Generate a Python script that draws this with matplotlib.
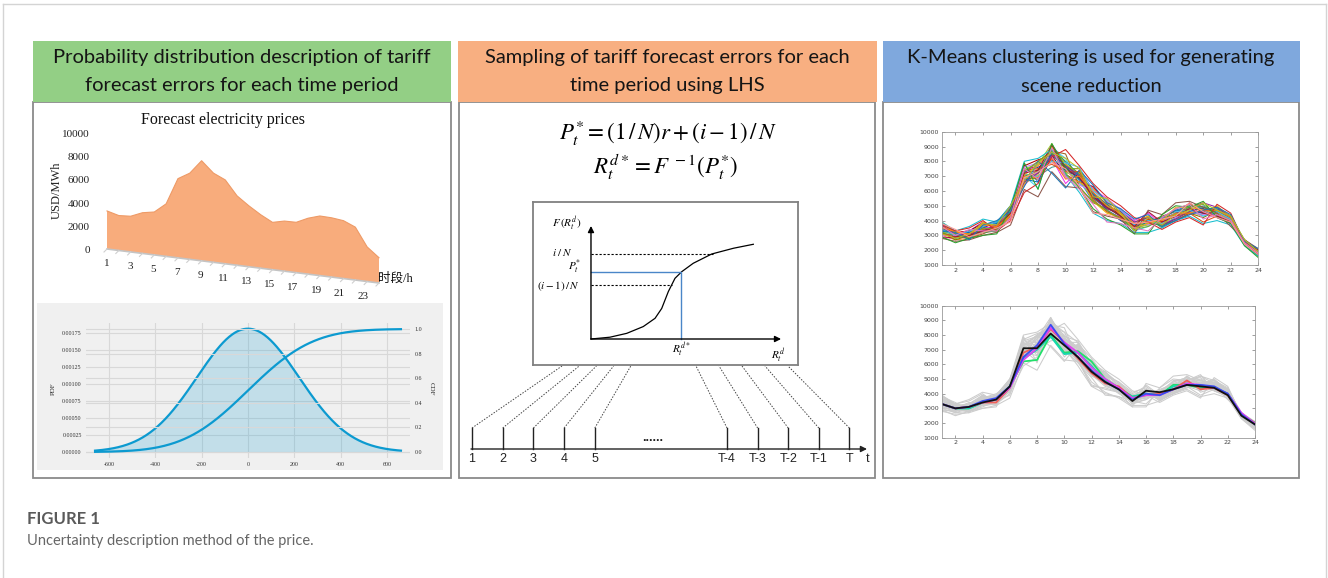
import math
import numpy as np
import matplotlib
matplotlib.use("Agg")
import matplotlib.pyplot as plt
from matplotlib.patches import Rectangle
from matplotlib.transforms import Affine2D

plt.rcParams["mathtext.fontset"] = "stix"

W, H = 1328, 578

# ---------------- data ----------------
hours = list(range(1, 25))
forecast_price = [3280, 3010, 3080, 3510, 3700, 4530, 6830, 7430, 8630, 7690, 7230, 5980,
                  5250, 4610, 4080, 4320, 4340, 4820, 5140, 5110, 4990, 4560, 2980, 2180]
price_ticks = [0, 2000, 4000, 6000, 8000, 10000]
hour_ticks = [1, 3, 5, 7, 9, 11, 13, 15, 17, 19, 21, 23]

# forecast error distribution (USD/MWh)
err_mu = 0.0
err_sigma = 220.0
err_range = (-660, 660)
err_ticks = [-600, -400, -200, 0, 200, 400, 600]
pdf_ticks = [0.0, 0.00025, 0.0005, 0.00075, 0.001, 0.00125, 0.0015, 0.00175]
cdf_ticks = [0.0, 0.2, 0.4, 0.6, 0.8, 1.0]

# LHS sketch: cumulative distribution curve in normalised units
cdf_curve_x = [0.0, 0.10, 0.188, 0.275, 0.337, 0.372, 0.407, 0.442, 0.477, 0.538, 0.635, 0.75, 0.854]
cdf_curve_y = [0.0, 0.016, 0.05, 0.11, 0.183, 0.27, 0.42, 0.537, 0.595, 0.67, 0.752, 0.803, 0.838]
level_low = 0.478    # (i-1)/N
level_high = 0.755   # i/N
sample_p = 0.59      # P_t*

timeline_labels = ["1", "2", "3", "4", "5", "T-4", "T-3", "T-2", "T-1", "T"]

# price scenarios generated by LHS (USD/MWh, hours 1..24)
scenario_prices = [
    [3500, 3100, 2900, 3300, 3600, 4300, 7400, 7700, 8800, 7600, 6900, 5600, 4900, 4300, 3700, 3900, 3800, 4400, 4800, 4700, 4600, 4100, 2500, 1800],
    [3200, 2900, 3000, 3500, 3400, 4600, 6900, 7200, 8300, 7200, 7300, 5900, 5100, 4500, 3500, 4100, 3700, 4200, 4600, 4500, 4400, 3900, 2600, 1900],
    [3800, 3200, 3100, 3700, 3900, 4900, 7800, 6600, 9100, 7900, 6700, 5300, 4700, 4200, 3400, 3800, 4100, 4700, 5000, 4900, 4700, 4200, 2400, 1700],
    [3000, 2700, 2800, 3200, 3300, 4200, 6600, 7500, 8000, 7000, 6500, 6200, 5300, 4600, 3900, 4300, 3600, 4000, 4500, 4400, 4300, 4000, 2700, 2000],
    [3400, 3000, 3300, 3900, 3500, 4400, 7200, 8000, 8600, 7700, 7100, 5500, 4800, 4400, 3600, 4000, 3900, 4500, 4900, 5200, 4900, 4300, 2500, 1800],
    [3600, 3300, 2900, 3300, 3700, 4700, 7000, 6200, 8900, 8200, 6500, 5700, 5000, 4300, 3300, 3600, 4200, 4400, 4700, 4300, 4500, 4100, 2600, 1900],
    [2900, 2800, 3100, 3500, 3600, 4100, 6400, 7300, 8200, 6500, 7400, 6100, 5500, 4700, 4000, 4500, 3800, 4100, 4400, 4600, 4200, 3800, 2400, 1700],
    [3300, 3100, 3000, 3400, 3200, 4500, 7500, 7800, 9200, 7300, 6800, 5400, 4600, 4100, 3500, 3700, 4000, 4800, 5100, 4700, 4800, 4300, 2500, 1800],
    [3700, 2900, 3200, 3600, 3800, 4800, 7100, 7000, 7600, 7800, 7000, 5800, 4900, 4400, 3800, 4200, 3500, 4200, 4600, 5000, 4400, 3900, 2600, 1900],
    [3100, 3000, 2800, 3100, 3500, 4300, 6700, 7400, 8700, 8500, 6300, 5200, 4800, 4500, 3700, 3900, 4300, 4600, 4800, 4800, 4600, 4200, 2700, 2000],
    [3500, 3200, 3300, 3800, 3600, 4600, 7700, 8100, 8400, 7100, 6600, 6300, 5200, 4300, 3400, 4100, 3900, 4300, 5200, 4500, 4500, 4000, 2500, 1800],
    [3200, 2700, 3000, 3300, 3400, 4400, 6900, 6800, 8500, 7500, 7500, 5600, 5000, 4600, 3600, 3800, 3700, 4000, 4500, 4200, 4700, 4100, 2400, 1700],
    [3400, 3100, 2900, 3500, 3900, 5000, 7300, 7600, 8100, 7400, 6900, 5900, 4700, 4000, 3500, 4000, 4100, 4500, 4700, 4800, 4300, 3800, 2600, 1900],
    [3900, 3200, 3100, 3400, 3500, 4200, 6500, 7100, 9000, 7800, 7200, 5300, 4500, 4200, 3800, 4300, 3800, 4400, 4600, 4600, 5000, 4200, 2500, 1800],
    [3000, 3000, 3200, 3700, 3700, 4700, 7600, 7900, 8300, 6900, 6400, 6000, 5300, 4800, 3900, 3700, 4000, 4200, 4800, 4400, 4400, 4000, 2700, 2000],
    [3600, 2800, 3000, 3200, 3300, 4500, 7000, 7300, 8800, 8000, 7100, 5500, 4900, 4300, 3300, 4000, 3600, 4600, 5000, 4900, 4600, 4300, 2400, 1600],
    [3300, 3100, 3200, 3600, 3800, 4300, 6800, 6600, 8600, 7600, 6800, 5800, 5100, 4500, 3700, 3900, 4200, 4700, 4700, 4500, 4800, 4100, 2600, 1900],
    [3100, 2900, 2900, 3400, 3600, 4600, 7400, 7500, 7800, 7300, 7300, 5400, 4600, 4200, 3600, 4100, 3900, 4300, 4500, 3900, 4300, 3900, 2500, 1800],
    [3500, 3300, 3000, 3900, 3500, 4400, 7100, 7700, 8900, 7000, 6600, 6100, 5200, 4400, 3500, 3800, 4000, 4900, 4900, 4700, 4500, 4000, 2600, 2000],
    [3700, 3000, 3100, 3300, 3700, 4800, 6600, 7200, 8400, 7700, 7000, 5700, 4800, 4600, 3900, 4200, 3700, 4100, 4600, 4600, 4900, 4200, 2500, 1700],
    [3200, 3100, 2800, 3500, 3400, 4200, 7300, 8000, 8700, 7200, 6200, 5300, 4700, 4100, 3400, 3600, 4100, 4400, 4900, 5100, 4400, 4000, 2700, 1900],
    [3400, 3000, 3300, 3600, 3900, 4600, 6900, 7000, 8000, 7900, 7600, 6000, 5400, 4700, 3700, 4000, 3800, 4600, 4700, 4300, 4600, 4100, 2400, 1800],
    [2800, 2900, 3000, 3300, 3500, 4500, 7200, 7400, 9100, 7500, 6900, 5600, 4900, 4300, 3600, 4600, 3900, 4300, 4800, 4500, 4300, 3900, 2600, 2000],
    [3600, 3200, 3100, 3700, 3600, 4300, 7000, 6900, 8200, 6800, 7000, 5900, 5000, 4500, 3800, 3900, 4000, 4500, 4500, 4700, 4700, 4200, 2500, 1800],
    [3900, 3300, 3600, 4100, 3900, 5000, 8000, 8200, 8800, 7100, 5900, 4500, 4000, 3800, 3200, 3200, 3500, 4000, 4300, 3800, 4000, 3700, 2300, 1600],
    [2800, 2600, 2700, 3000, 3200, 3700, 6100, 5600, 7300, 6300, 6200, 4600, 4300, 4100, 3100, 4700, 4400, 5200, 5300, 4900, 4500, 3600, 2700, 2100],
    [3700, 3300, 3500, 4000, 3300, 4000, 5900, 6500, 8300, 8800, 7700, 6500, 5600, 5000, 4200, 3900, 3400, 3900, 4200, 3700, 5100, 4500, 2500, 1700],
    [2900, 2500, 2800, 3000, 3100, 4800, 7900, 6100, 9200, 7600, 6200, 4800, 4100, 3700, 3100, 3100, 4400, 5000, 4900, 5300, 4200, 3800, 2300, 1500],
    [3300, 3200, 2700, 3700, 4000, 4600, 6300, 8000, 7200, 6200, 7400, 6400, 5200, 4800, 4100, 4400, 3600, 4000, 4400, 4700, 4900, 4400, 2600, 2100],
    [3600, 3000, 3400, 3300, 3300, 4200, 7500, 6800, 8900, 7000, 6100, 5100, 3900, 3800, 3500, 3300, 4200, 4800, 5100, 4100, 4400, 4000, 2500, 1800],
    [3100, 2800, 3100, 3800, 3700, 5000, 6700, 7900, 8600, 8200, 7500, 5600, 5500, 4500, 3300, 4200, 3700, 4400, 4700, 5200, 4700, 4300, 2700, 1900],
    [3800, 3400, 2900, 3200, 3500, 3900, 6900, 7300, 7900, 7500, 6300, 4500, 4400, 4100, 3800, 3900, 4100, 4300, 5200, 4600, 4200, 3900, 2400, 1700],
]
scenario_colors = ["#e6194b", "#3cb44b", "#4363d8", "#f58231", "#911eb4", "#42d4f4",
                   "#f032e6", "#9ACD32", "#469990", "#9A6324", "#b00000", "#808000",
                   "#1f3fa0", "#e6b800", "#c77dff", "#2ca25f", "#0072BD", "#D95319",
                   "#EDB120", "#7E2F8E", "#77AC30", "#4DBEEE", "#A2142F", "#ff7f0e",
                   "#17becf", "#8c564b", "#d62728", "#2ca02c", "#1f77b4", "#e377c2",
                   "#bcbd22", "#ff9896"]

# representative scenarios after K-Means reduction
cluster_prices = [
    [3300, 3000, 3000, 3400, 3600, 4500, 6200, 6300, 8000, 6800, 6900, 6200, 5000, 4400, 3800, 4000, 3900, 4600, 4600, 4400, 4400, 4000, 2600, 2000],
    [3300, 3000, 3000, 3400, 3600, 4500, 6400, 7000, 7900, 6700, 6800, 5900, 4900, 4300, 3800, 4000, 3900, 4500, 4700, 4500, 4400, 4000, 2600, 2000],
    [3300, 3000, 3100, 3400, 3400, 4400, 6800, 7200, 8400, 7500, 6400, 5400, 4700, 4500, 3700, 3900, 4000, 4300, 4900, 4300, 4400, 3900, 2600, 2000],
    [3300, 3000, 3100, 3400, 3600, 4400, 6300, 7100, 8500, 7500, 6800, 5800, 5000, 4400, 3700, 3900, 3900, 4300, 4700, 4600, 4400, 4000, 2700, 1950],
    [3300, 3000, 3100, 3500, 3700, 4500, 6500, 7300, 8700, 7400, 6500, 5600, 4800, 4300, 3600, 4000, 3900, 4300, 4600, 4600, 4500, 4000, 2600, 1900],
    [3300, 3000, 3100, 3400, 3600, 4500, 7100, 7100, 8100, 7300, 6500, 5500, 4800, 4300, 3500, 4200, 4100, 4300, 4600, 4500, 4400, 3900, 2500, 1900],
]
cluster_colors = ["#22e06a", "#16d6b0", "#f0605a", "#e040f0", "#3a4cf0", "#111111"]
scen_yticks = list(range(1000, 10001, 1000))
scen_xticks = list(range(2, 25, 2))

header_lines = [
    ["Probability distribution description of tariff", "forecast errors for each time period"],
    ["Sampling of tariff forecast errors for each", "time period using LHS"],
    ["K-Means clustering is used for generating", "scene reduction"],
]

# ---------------- figure ----------------
fig = plt.figure(figsize=(W / 100, H / 100), dpi=100)
fig.patch.set_facecolor("white")
canvas = fig.add_axes([0, 0, 1, 1])
canvas.set_xlim(0, W)
canvas.set_ylim(H, 0)
canvas.set_autoscale_on(False)
canvas.axis("off")


def frac(x0, y0, x1, y1):
    return [x0 / W, 1 - y1 / H, (x1 - x0) / W, (y1 - y0) / H]


HEAD_FONT = ["Lato", "DejaVu Sans"]
SERIF = ["Liberation Serif", "Noto Sans CJK SC"]

# outer frame
canvas.plot([3, 1326], [4, 4], color="#d4d4d4", lw=1)
canvas.plot([3, 3], [4, H], color="#d4d4d4", lw=1)
canvas.plot([1326, 1326], [4, H], color="#d4d4d4", lw=1)

# panels with coloured headers
panel_geo = [
    (32.5, 451.0, 32.5, 450.5, "#93CF85", 242),
    (457.5, 876.5, 459.0, 875.0, "#F8AF81", 667),
    (882.5, 1300.0, 883.0, 1299.0, "#7FA8DD", 1091),
]
for (hx0, hx1, bx0, bx1, col, cx), lines in zip(panel_geo, header_lines):
    canvas.add_patch(Rectangle((bx0, 101.5), bx1 - bx0, 478 - 101.5, fc="white",
                               ec="#8a8a8a", lw=1.3, zorder=1))
    canvas.add_patch(Rectangle((hx0, 40.5), hx1 - hx0, 61.5, fc=col, ec="none", zorder=2))
    for j, ln in enumerate(lines):
        canvas.text(cx, 58 + 28 * j, ln, ha="center", va="center", fontsize=14.5,
                    family=HEAD_FONT, color="#151515", zorder=3)

# ---------- panel 1 top: pseudo-3D area chart of forecast prices ----------
ox, oy = 107.0, 249.0
step = (379.0 - 107.0) / 23
shear = (283.0 - 249.0) / 23
kval = 23.2 / 2000
area_tf = Affine2D(np.array([[step, 0, ox - step], [shear, -kval, oy - shear], [0, 0, 1]]))
area_trans = area_tf + canvas.transData

poly_x = hours + hours[::-1]
poly_y = forecast_price + [0] * len(hours)
canvas.fill(poly_x, poly_y, transform=area_trans, fc="#F8AC7C", ec="none", zorder=3)
canvas.plot(hours, forecast_price, transform=area_trans, color="#EE9A66", lw=0.8, zorder=4)
canvas.plot([hours[0], hours[-1]], [0, 0], transform=area_trans, color="#c4c4c4", lw=1.2, zorder=3)
for hh in hours:
    bx, by = area_tf.transform((hh, 0))
    canvas.plot([bx, bx - 3], [by, by + 3], color="#cfcfcf", lw=0.8, zorder=3)

for v in price_ticks:
    _, py = area_tf.transform((1, v))
    canvas.text(90, py + 1.5, f"{v}", ha="right", va="center", fontsize=8, family=SERIF,
                color="#222222", zorder=4)
for hh in hour_ticks:
    bx, by = area_tf.transform((hh, 0))
    canvas.text(bx - 0.2 * (hh - 1), by + 15, f"{hh}", ha="center", va="center", fontsize=8,
                family=SERIF, color="#222222", zorder=4)
canvas.text(223, 120.5, "Forecast electricity prices", ha="center", va="center",
            fontsize=11.5, family=SERIF, color="#111111", zorder=4)
canvas.text(57, 190, "USD/MWh", ha="center", va="center", rotation=90, fontsize=9,
            family=SERIF, color="#222222", zorder=4)
canvas.text(378, 279, "时段/h", ha="left", va="center", fontsize=9, family=SERIF,
            color="#111111", zorder=4)

# ---------- panel 1 bottom: PDF / CDF of forecast error ----------
canvas.add_patch(Rectangle((37, 303), 406, 167, fc="#F0F0F0", ec="none", zorder=2))
ax_pdf = fig.add_axes(frac(85.8, 322.8, 410.2, 458.1))
ax_pdf.set_facecolor("none")
ax_cdf = ax_pdf.twinx()
xs = np.linspace(err_range[0], err_range[1], 400)
pdf = np.exp(-0.5 * ((xs - err_mu) / err_sigma) ** 2) / (err_sigma * math.sqrt(2 * math.pi))
cdf = np.array([0.5 * (1 + math.erf((x - err_mu) / (err_sigma * math.sqrt(2)))) for x in xs])
line_col = "#0C9AD0"
ax_pdf.fill_between(xs, 0, pdf, color=line_col, alpha=0.2, lw=0)
ax_pdf.plot(xs, pdf, color=line_col, lw=1.6)
ax_cdf.plot(xs, cdf, color=line_col, lw=1.6)
ax_pdf.set_xlim(-700, 700)
ax_pdf.set_ylim(-0.0000897, 0.0019)
ax_cdf.set_ylim(-0.0496, 1.0504)
ax_pdf.set_xticks(err_ticks)
ax_pdf.set_xticklabels([f"{t}" for t in err_ticks])
ax_pdf.set_yticks(pdf_ticks)
ax_pdf.set_yticklabels([f"{t:.5f}" for t in pdf_ticks])
ax_cdf.set_yticks(cdf_ticks)
ax_cdf.set_yticklabels([f"{t:.1f}" for t in cdf_ticks])
for a in (ax_pdf, ax_cdf):
    for s in a.spines.values():
        s.set_visible(False)
    a.tick_params(length=0, labelsize=4.3, labelcolor="#333333", pad=3)
    for lab in a.get_xticklabels() + a.get_yticklabels():
        lab.set_family(SERIF)
ax_pdf.grid(True, color="#d8d8d8", lw=0.8)
ax_cdf.grid(True, axis="y", color="#d8d8d8", lw=0.8)
ax_pdf.set_axisbelow(True)
canvas.text(53, 389, "PDF", rotation=90, ha="center", va="center", fontsize=5,
            family=SERIF, color="#333333", zorder=4)
canvas.text(431, 389, "CDF", rotation=270, ha="center", va="center", fontsize=5,
            family=SERIF, color="#333333", zorder=4)

# ---------- panel 2: LHS formulas and sketch ----------
canvas.text(668, 133, r"$P_t^{*} = (1\,/\,N)r + (i-1)\,/\,N$", ha="center", va="center",
            fontsize=16.5, zorder=4)
canvas.text(666, 167, r"$R_t^{d*} = F^{\,-1}(P_t^{*})$", ha="center", va="center",
            fontsize=16.5, zorder=4)

ax_lhs = fig.add_axes(frac(533, 202, 798, 365))
ax_lhs.set_xlim(-0.305, 1.089)
ax_lhs.set_ylim(-0.230, 1.212)
ax_lhs.set_xticks([])
ax_lhs.set_yticks([])
for s in ax_lhs.spines.values():
    s.set_color("#808080")
    s.set_linewidth(1.3)
ax_lhs.annotate("", xy=(1.0, 0), xytext=(0, 0),
                arrowprops=dict(arrowstyle="-|>", color="black", lw=1.0, mutation_scale=9,
                                shrinkA=0, shrinkB=0))
ax_lhs.annotate("", xy=(0, 1.0), xytext=(0, 0),
                arrowprops=dict(arrowstyle="-|>", color="black", lw=1.0, mutation_scale=9,
                                shrinkA=0, shrinkB=0))
ax_lhs.plot(cdf_curve_x, cdf_curve_y, color="black", lw=0.9)
for lev in (level_low, level_high):
    xe = np.interp(lev, cdf_curve_y, cdf_curve_x)
    ax_lhs.plot([0, xe], [lev, lev], color="black", lw=0.8, ls=(0, (2, 1.6)))
xs_p = np.interp(sample_p, cdf_curve_y, cdf_curve_x)
ax_lhs.plot([0, xs_p, xs_p], [sample_p, sample_p, 0], color="#4a86c8", lw=1.0)
mt = dict(fontsize=8, ha="center", va="center")
ax_lhs.text(-0.126, 1.017, r"$F\,(R_t^d)$", **mt)
ax_lhs.text(-0.153, level_high + 0.006, r"$i\;/\;N$", **mt)
ax_lhs.text(-0.084, sample_p + 0.05, r"$P_t^{*}$", **mt)
ax_lhs.text(-0.174, level_low - 0.01, r"$(i-1)\,/\,N$", **mt)
ax_lhs.text(xs_p, -0.097, r"$R_t^{d*}$", **mt)
ax_lhs.text(0.984, -0.15, r"$R_t^{d}$", **mt)

# timeline of periods
tick_x = [472 + 30.7 * i for i in range(5)] + [727 + 30.6 * i for i in range(5)]
top_x = [562 + 17.2 * i for i in range(5)] + [696 + 23.0 * i for i in range(5)]
axis_y, tick_top, box_bottom = 449, 428, 366
canvas.annotate("", xy=(867, axis_y), xytext=(471, axis_y),
                arrowprops=dict(arrowstyle="-|>", color="#222222", lw=1.0,
                                mutation_scale=9, shrinkA=0, shrinkB=0), zorder=4)
for tx, ux, lab in zip(tick_x, top_x, timeline_labels):
    canvas.plot([tx, tx], [axis_y, tick_top], color="#222222", lw=1.0, zorder=4)
    canvas.plot([tx, ux], [tick_top, box_bottom], color="#444444", lw=0.7,
                ls=(0, (1.5, 1.5)), zorder=4)
    canvas.text(tx, 459, lab, ha="center", va="center", fontsize=9,
                family="Liberation Sans", color="#222222", zorder=4)
canvas.text(868, 459, "t", ha="center", va="center", fontsize=9,
            family="Liberation Sans", color="#222222", zorder=4)
canvas.text(653, 438, "......", ha="center", va="center", fontsize=9, fontweight="bold",
            family="Liberation Sans", color="#222222", zorder=4)

# ---------- panel 3: scenarios and reduced scenarios ----------
def style_matlab(a):
    a.set_xlim(1, 24)
    a.set_ylim(1000, 10000)
    a.set_xticks(scen_xticks)
    a.set_yticks(scen_yticks)
    a.tick_params(direction="in", top=True, right=True, length=2, width=0.5,
                  labelsize=4.5, labelcolor="#444444", color="#777777", pad=2)
    for s in a.spines.values():
        s.set_color("#9a9a9a")
        s.set_linewidth(0.6)


ax_s = fig.add_axes(frac(941.7, 131.7, 1258.3, 265))
for row, col in zip(scenario_prices, scenario_colors):
    ax_s.plot(hours, row, color=col, lw=0.75)
style_matlab(ax_s)

ax_k = fig.add_axes(frac(941.7, 305.7, 1255, 437.7))
for row in scenario_prices:
    ax_k.plot(hours, row, color="#cccccc", lw=0.75)
for row, col in zip(cluster_prices, cluster_colors):
    ax_k.plot(hours, row, color=col, lw=1.3)
style_matlab(ax_k)

# ---------- caption ----------
canvas.text(27, 519, "FIGURE 1", ha="left", va="center", fontsize=12, fontweight="bold",
            family=["Lato", "DejaVu Sans"], color="#5a5a5a")
canvas.text(27, 541, "Uncertainty description method of the price.", ha="left", va="center",
            fontsize=10.5, family=["Lato", "DejaVu Sans"], color="#666666")

fig.savefig("out.png", dpi=100)
